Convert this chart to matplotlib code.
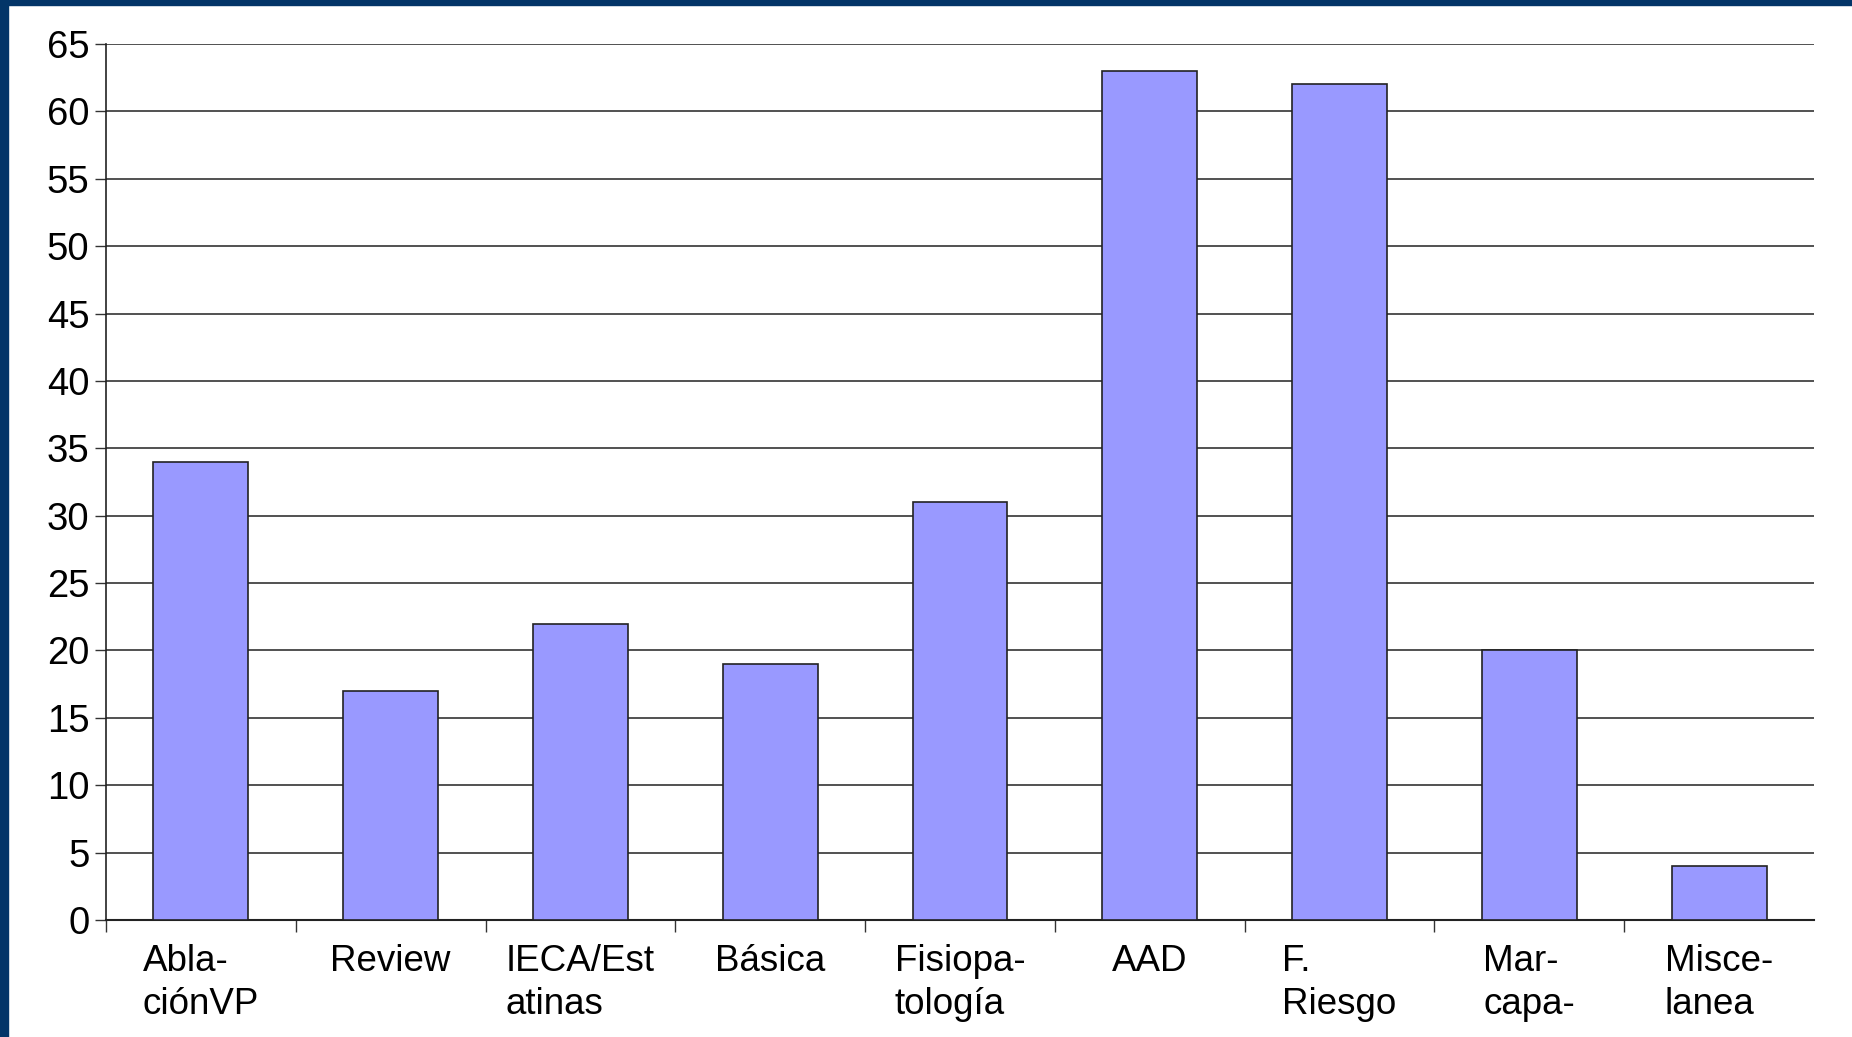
import matplotlib.pyplot as plt
from matplotlib.patches import Rectangle

categories = ["Abla-\nciónVP", "Review", "IECA/Est\natinas", "Básica", "Fisiopa-\ntología",
              "AAD", "F.\nRiesgo", "Mar-\ncapa-", "Misce-\nlanea"]
values = [34, 17, 22, 19, 31, 63, 62, 20, 4]
yticks = list(range(0, 70, 5))

plt.rcParams['font.family'] = ['Liberation Sans', 'DejaVu Sans']

fig = plt.figure(figsize=(18.52, 10.37), dpi=100)
ax = fig.add_axes([106/1852, 1 - 920/1037, (1814-106)/1852, (920-44)/1037])

# dark blue frame on left and top
fig.patches.append(Rectangle((0, 0), 8/1852, 1, transform=fig.transFigure, color='#033568', zorder=5))
fig.patches.append(Rectangle((0, 1 - 5/1037), 1, 5/1037, transform=fig.transFigure, color='#033568', zorder=5))

pos = [i + 0.5 for i in range(len(values))]
ax.bar(pos, values, width=0.5, color='#9999ff', edgecolor='#222222', linewidth=1.2, zorder=3)

ax.set_xlim(0, 9)
ax.set_ylim(0, 65)
ax.set_yticks(yticks)
ax.yaxis.grid(True, color='#333333', linewidth=1.2, zorder=0)
ax.tick_params(axis='y', labelsize=27.5, length=8, width=1, color='#333333', pad=4)

ax.set_xticks(range(9))
ax.set_xticklabels([])
ax.tick_params(axis='x', which='major', length=8.5, width=1, color='#333333')
ax.set_xticks(pos, minor=True)
ax.set_xticklabels(categories, minor=True)
ax.tick_params(axis='x', which='minor', length=0, labelsize=26.5, pad=17.5)
for lbl in ax.get_xticklabels(minor=True):
    lbl.set_multialignment('left')
    lbl.set_verticalalignment('top')
    lbl.set_linespacing(1.3)

for s in ['top', 'right']:
    ax.spines[s].set_visible(False)
ax.spines['left'].set_color('#222222')
ax.spines['bottom'].set_color('#222222')
ax.spines['left'].set_linewidth(1.2)
ax.spines['bottom'].set_linewidth(1.5)

fig.savefig('out.png', dpi=100)
